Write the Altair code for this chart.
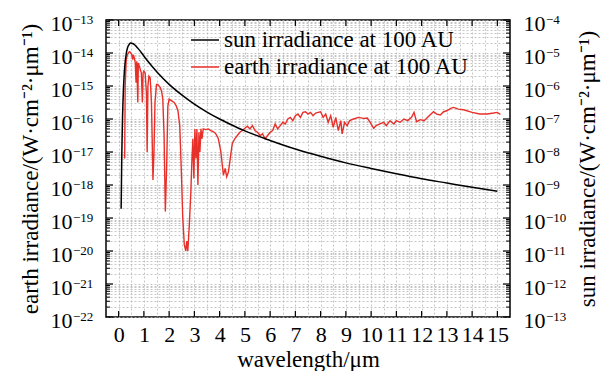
import altair as alt
import pandas as pd

# ---------------- data ----------------
sun_name = "sun irradiance at 100 AU"
earth_name = "earth irradiance at 100 AU"

# sun irradiance (right axis units, log10 of W·cm^-2·µm^-1)
sun_wavelength = [0.10, 0.12, 0.13, 0.15, 0.17, 0.20, 0.22, 0.25, 0.30, 0.35, 0.40, 0.48,
                  0.55, 0.60, 0.70, 0.80, 1.0, 1.2, 1.5, 2.0, 2.5, 3.0, 3.5, 4.0, 4.4,
                  5.0, 6.0, 7.0, 8.0, 9.0, 10.0, 11.0, 12.0, 13.0, 14.0, 15.0]
sun_log10 = [-9.72, -8.43, -7.91, -7.10, -6.54, -5.94, -5.66, -5.35, -5.03, -4.85, -4.76, -4.70,
             -4.71, -4.73, -4.80, -4.89, -5.09, -5.29, -5.56, -5.95, -6.27, -6.55, -6.79, -7.00, -7.15,
             -7.36, -7.65, -7.91, -8.13, -8.33, -8.50, -8.66, -8.81, -8.94, -9.07, -9.19]

# earth irradiance (left axis units, log10 of W·cm^-2·µm^-1)
earth_wavelength = [0.24, 0.26, 0.30, 0.35, 0.40, 0.44, 0.48, 0.52, 0.56, 0.58, 0.62, 0.66, 0.69,
                    0.72, 0.76, 0.78, 0.82, 0.86, 0.90, 0.94, 0.97, 1.00, 1.05, 1.10, 1.13, 1.16,
                    1.20, 1.25, 1.30, 1.36, 1.40, 1.44, 1.50, 1.55, 1.60, 1.65, 1.70, 1.75, 1.80,
                    1.85, 1.90, 1.95, 2.00, 2.10, 2.20, 2.28, 2.35, 2.42, 2.48, 2.54, 2.60, 2.66,
                    2.70, 2.74, 2.80, 2.86, 2.90, 2.94, 2.98, 3.02, 3.06, 3.10, 3.14, 3.18, 3.22,
                    3.26, 3.30, 3.35, 3.45, 3.55, 3.65, 3.75, 3.85, 3.95, 4.05, 4.15, 4.22, 4.28,
                    4.35, 4.42, 4.50, 4.60, 4.70, 4.80, 4.90, 5.00, 5.10, 5.20, 5.30, 5.40, 5.50,
                    5.60, 5.70, 5.80, 5.90, 6.00, 6.10, 6.20, 6.30, 6.40, 6.50, 6.60, 6.70, 6.80,
                    6.90, 7.00, 7.10, 7.20, 7.30, 7.40, 7.50, 7.60, 7.70, 7.80, 7.90, 8.00, 8.10,
                    8.20, 8.30, 8.40, 8.50, 8.60, 8.70, 8.80, 8.85, 8.95, 9.05, 9.15, 9.30, 9.50,
                    9.70, 9.85, 10.0, 10.1, 10.2, 10.35, 10.5, 10.6, 10.75, 10.9, 11.0, 11.15,
                    11.3, 11.45, 11.6, 11.7, 11.8, 11.95, 12.1, 12.3, 12.47, 12.6, 12.74, 12.87,
                    13.0, 13.15, 13.27, 13.45, 13.66, 14.0, 14.3, 14.6, 14.85, 14.99, 15.12]
earth_log10 = [-17.2, -15.0, -14.2, -14.05, -13.98, -13.96, -14.0, -14.05, -14.2, -14.05, -14.15, -14.3, -14.9,
               -14.25, -15.5, -14.3, -14.4, -14.5, -14.6, -15.5, -14.6, -14.55, -14.6, -15.2, -17.0, -15.0,
               -14.7, -14.75, -15.5, -17.85, -17.0, -15.5, -14.95, -14.95, -15.0, -15.05, -15.15, -15.4, -16.5,
               -18.8, -17.5, -15.6, -15.4, -15.45, -15.5, -15.6, -15.75, -16.2, -17.5, -19.0, -19.8, -20.0,
               -19.7, -20.0, -19.2, -18.2, -17.3, -16.6, -17.8, -16.3, -17.2, -16.3, -18.0, -16.4, -17.0,
               -16.3, -16.6, -16.3, -16.32, -16.3, -16.35, -16.38, -16.45, -16.6, -17.0, -17.7, -17.5, -17.75,
               -17.6, -17.2, -16.75, -16.6, -16.5, -16.4, -16.35, -16.28, -16.22, -16.3, -16.2, -16.35, -16.4,
               -16.5, -16.45, -16.6, -16.5, -16.4, -16.35, -16.15, -16.3, -16.2, -16.1, -16.15, -16.0, -15.95,
               -16.05, -15.9, -15.85, -15.95, -15.8, -15.78, -15.85, -15.8, -15.9, -15.82, -15.8, -15.78, -15.95,
               -15.85, -16.1, -15.9, -16.25, -15.95, -16.35, -16.05, -16.45, -16.1, -16.2, -16.05, -16.0, -15.95,
               -15.98, -15.97, -16.15, -16.28, -16.2, -16.15, -16.1, -16.2, -16.05, -16.15, -16.05, -16.1,
               -16.0, -16.05, -15.95, -15.8, -16.08, -16.02, -16.05, -15.9, -15.78, -15.85, -15.88, -15.78,
               -15.75, -15.68, -15.65, -15.7, -15.72, -15.8, -15.85, -15.85, -15.82, -15.8, -15.86]

x_tick_values = list(range(0, 16))
x_grid_values = [i / 2 for i in range(0, 31)]
left_powers = list(range(-22, -12))
right_powers = list(range(-13, -3))
minor_mults = [2, 3, 4, 5, 6, 7, 8, 9]

# ---------------- helpers ----------------
FONT = "Liberation Serif"
RED = "#e8302a"
W, H = 404, 297


def pow_label_expr(powers):
    expr = "''"
    for p in powers:
        expr = f"abs(log(datum.value)/LN10 - ({p})) < 0.001 ? '10' : " + expr
    return expr


def exp_text(p):
    return "\u2212" + str(abs(p))


left_major = [10.0 ** p for p in left_powers]
left_minor = [m * 10.0 ** p for p in left_powers[:-1] for m in minor_mults]
left_all = sorted(left_major + left_minor)

sun_df = pd.DataFrame({"wl": sun_wavelength, "val": [10.0 ** v for v in sun_log10], "series": sun_name})
earth_df = pd.DataFrame({"wl": earth_wavelength, "val": [10.0 ** v for v in earth_log10], "series": earth_name})
ymaj_df = pd.DataFrame({"val": left_major})
ymin_df = pd.DataFrame({"val": left_minor})
xmaj_df = pd.DataFrame({"wl": x_tick_values})
left_exp_df = pd.DataFrame({"val": left_major, "exp": [exp_text(p) for p in left_powers]})
right_exp_df = pd.DataFrame({"val": [10.0 ** p for p in right_powers], "exp": [exp_text(p) for p in right_powers]})

x_scale = alt.Scale(domain=[-0.5, 15.5], nice=False, zero=False)
left_scale = alt.Scale(type="log", domain=[1e-22, 1e-13], nice=False)
right_scale = alt.Scale(type="log", domain=[1e-13, 1e-4], nice=False)

x_axis = alt.Axis(values=x_grid_values, labelExpr="datum.value % 1 == 0 ? format(datum.value, 'd') : ''",
                  grid=True, gridColor="#b8b8b8", gridDash=[2, 2], gridWidth=0.8,
                  ticks=False, tickSize=0, domain=False, labelFlush=False, labelOverlap=False,
                  labelFont=FONT, labelFontSize=22, labelColor="black", labelPadding=7,
                  title="wavelength/μm", titleFont=FONT, titleFontSize=23, titleFontWeight="normal",
                  titleColor="black", titlePadding=3)

left_axis = alt.Axis(values=left_all, labelExpr=pow_label_expr(left_powers),
                     grid=True, gridColor="#b8b8b8", gridDash=[2, 2], gridWidth=0.8,
                     ticks=False, tickSize=0, domain=False, labelOverlap=False, labelBound=False,
                     labelFont=FONT, labelFontSize=22, labelColor="black", labelPadding=34, labelOffset=3,
                     title="earth irradiance/(W·cm⁻²·μm⁻¹)", titleFont=FONT, titleFontSize=23,
                     titleFontWeight="normal", titleColor="black", titlePadding=8)

right_axis = alt.Axis(orient="right", values=[10.0 ** p for p in right_powers],
                      labelExpr=pow_label_expr(right_powers),
                      grid=False, ticks=False, tickSize=0, domain=False, labelOverlap=False,
                      labelFont=FONT, labelFontSize=22, labelColor="black", labelPadding=13, labelOffset=3,
                      title="sun irradiance/(W·cm⁻²·μm⁻¹)", titleFont=FONT, titleFontSize=23,
                      titleFontWeight="normal", titleColor="black", titlePadding=31, titleAngle=270,
                      titleBaseline="top")

X = alt.X("wl:Q", scale=x_scale, axis=x_axis)
YL = alt.Y("val:Q", scale=left_scale, axis=left_axis)
YR = alt.Y("val:Q", scale=right_scale, axis=right_axis)

color = alt.Color("series:N",
                  scale=alt.Scale(domain=[sun_name, earth_name], range=["black", RED]),
                  legend=alt.Legend(orient="none", legendX=84, legendY=5, title=None,
                                    symbolType="stroke", symbolSize=784, symbolStrokeWidth=1.5,
                                    labelFont=FONT, labelFontSize=23, labelColor="black",
                                    labelOffset=4, labelLimit=0, padding=0, rowPadding=0))

tick_major_left = alt.Chart(ymaj_df).mark_rule(color="black", strokeWidth=1.2).encode(
    y=YL, x=alt.value(0), x2=alt.value(7))
tick_minor_left = alt.Chart(ymin_df).mark_rule(color="black", strokeWidth=1).encode(
    y=YL, x=alt.value(0), x2=alt.value(4))
tick_major_right = alt.Chart(ymaj_df).mark_rule(color="black", strokeWidth=1.2).encode(
    y=YL, x=alt.value(W - 7), x2=alt.value(W))
tick_minor_right = alt.Chart(ymin_df).mark_rule(color="black", strokeWidth=1).encode(
    y=YL, x=alt.value(W - 4), x2=alt.value(W))
tick_bottom = alt.Chart(xmaj_df).mark_rule(color="black", strokeWidth=1.2).encode(
    x=X, y=alt.value(H), y2=alt.value(H - 6))
tick_top = alt.Chart(xmaj_df).mark_rule(color="black", strokeWidth=1.2).encode(
    x=X, y=alt.value(0), y2=alt.value(6))

# superscript exponents of the "10" tick labels
left_exp = alt.Chart(left_exp_df).mark_text(
    align="left", baseline="alphabetic", dy=4, font=FONT, fontSize=13, color="black"
).encode(y=YL, x=alt.value(-33), text="exp:N")
right_exp = alt.Chart(right_exp_df).mark_text(
    align="left", baseline="alphabetic", dy=4, font=FONT, fontSize=13, color="black"
).encode(y=YR, x=alt.value(W + 36), text="exp:N")

earth_line = alt.Chart(earth_df).mark_line(strokeWidth=1.4).encode(x=X, y=YL, color=color)
sun_line = alt.Chart(sun_df).mark_line(strokeWidth=1.5, interpolate="monotone").encode(x=X, y=YR, color=color)

inner = alt.layer(earth_line, tick_major_left, tick_minor_left, tick_major_right,
                  tick_minor_right, tick_bottom, tick_top, left_exp)
right_group = alt.layer(sun_line, right_exp)

chart = alt.layer(inner, right_group).resolve_scale(y="independent").properties(
    width=W, height=H,
    autosize=alt.AutoSizeParams(type="none"),
    padding={"left": 98, "top": 12, "right": 93, "bottom": 54},
).configure_view(stroke="black", strokeWidth=1.5)

chart.save("out.html", embed_options={"renderer": "svg", "actions": False})
